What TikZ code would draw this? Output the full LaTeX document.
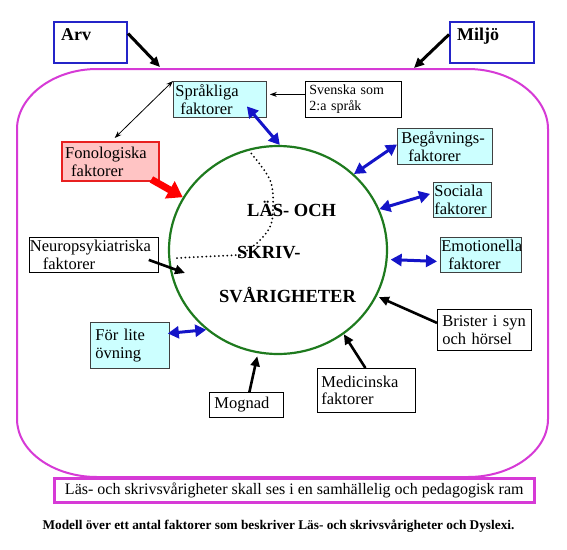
\documentclass[tikz,border=0pt]{standalone}
\usepackage{fontspec}
\setmainfont{Liberation Serif}
\usetikzlibrary{arrows.meta,shapes.geometric,calc}
\definecolor{cyanfill}{HTML}{CCFFFF}
\definecolor{magframe}{HTML}{D63AD6}
\definecolor{bluebd}{HTML}{2424C8}
\definecolor{arrblue}{HTML}{1414C8}
\definecolor{pinkfill}{HTML}{FFC4C4}
\definecolor{redbd}{HTML}{E82020}
\definecolor{greenc}{HTML}{1E7A1E}
\definecolor{graybd}{HTML}{404040}
\begin{document}
\begin{tikzpicture}[x=1pt,y=-1pt,
  basebox/.style={anchor=north west, inner xsep=4pt, inner ysep=0pt, align=left,
    font=\fontsize{16.5}{17.5}\selectfont, line width=0.8pt},
  cyanbox/.style={basebox, draw=graybd, fill=cyanfill},
  whitebox/.style={basebox, draw=black, fill=white},
  fonobox/.style={basebox, draw=redbd, fill=pinkfill, line width=2.4pt},
  topbox/.style={anchor=north west, draw=bluebd, line width=2pt, inner sep=0pt},
  toptext/.style={anchor=base west, inner sep=0pt, font=\bfseries\fontsize{18}{20}\selectfont},
  centertext/.style={anchor=base west, inner sep=0pt, font=\bfseries\fontsize{18.5}{20}\selectfont},
  bluearr/.style={draw=arrblue, line width=3pt,
    {Triangle[length=11pt,width=12pt]}-{Triangle[length=11pt,width=12pt]}},
  blackarr/.style={draw=black, line width=2.6pt, -{Triangle[length=10pt,width=9pt]}},
  redarr/.style={draw=red, line width=7pt, -{Triangle[length=15pt,width=19pt]}},
  thinarr/.style={draw=black, line width=0.8pt, -{Stealth[length=7pt,width=5pt]}},
  thindbl/.style={draw=black, line width=0.8pt, {Stealth[length=7pt,width=5pt]}-{Stealth[length=7pt,width=5pt]}},
  dotline/.style={draw=black, line width=2pt, line cap=round, dash pattern=on 0pt off 4.2pt}
]
\useasboundingbox (0,0) rectangle (567,549);
\fill[white] (0,0) rectangle (567,549);

% outer frame
\draw[magframe, line width=2pt]
  (97,69) -- (468,69) .. controls (512,69) and (548,97) .. (548,129)
  -- (548,419) .. controls (548,451) and (512,477) .. (468,477)
  -- (97,477) .. controls (53,477) and (17,451) .. (17,419)
  -- (17,129) .. controls (17,97) and (53,69) .. (97,69) -- cycle;
\coordinate (fa) at (160,67);
\coordinate (fm) at (414,68);

% Arv / Miljo
\node[topbox, minimum width=73pt, minimum height=41pt] (arv) at (53,21) {};
\node[toptext] (arvt) at (61,40) {Arv};
\node[topbox, minimum width=84pt, minimum height=41pt] (miljo) at (449,21) {};
\node[toptext] (miljot) at (457,40) {Miljö};
\draw[blackarr, line width=3pt] ($(arv.east)+(0,-9)$) -- (fa);
\draw[blackarr, line width=3pt] ($(miljo.west)+(0,-8)$) -- (fm);

% central circle
\node[draw=greenc, line width=2.2pt, ellipse, minimum width=218pt, minimum height=208pt, inner sep=0pt] (c) at (278,250) {};

% dotted line
\draw[dotline] (177,258) -- (240,255)
  plot[smooth, tension=0.6] coordinates {(240,255) (257,243) (270,227) (273,207) (270,180) (250,152)};

\node[centertext] (t1) at (247,216) {LÄS- OCH};
\node[centertext] (t2) at (237,258) {SKRIV-};
\node[centertext] (t3) at (219,302) {SVÅRIGHETER};

% boxes
\node[cyanbox, minimum width=93pt, minimum height=36pt, text width=89pt, inner xsep=2pt] (sprak) at (173,81) {Språkliga\\\hspace*{5pt}faktorer};
\node[whitebox, minimum width=96pt, minimum height=36pt, text width=88pt, font=\fontsize{14}{16}\selectfont] (svenska) at (305,81) {Svenska som\\2:a språk};
\node[fonobox, minimum width=97pt, minimum height=39pt, text width=91pt, inner xsep=3pt] (fono) at (61,141) {Fonologiska\\\hspace*{6pt}faktorer};
\node[cyanbox, minimum width=95pt, minimum height=36pt, text width=87pt, inner xsep=4pt] (begav) at (397,128) {Begåvnings-\\\hspace*{7pt}faktorer};
\node[cyanbox, minimum width=58pt, minimum height=35pt, text width=56pt, inner xsep=1pt] (sociala) at (433,182) {Sociala\\faktorer};
\node[cyanbox, minimum width=81pt, minimum height=35pt, text width=79pt, inner xsep=1pt] (emot) at (440,237) {Emotionella\\\hspace*{7pt}faktorer};
\node[whitebox, minimum width=92pt, minimum height=41pt, text width=84pt, inner xsep=5pt] (brister) at (437,309) {Brister i syn\\och hörsel};
\node[whitebox, minimum width=98pt, minimum height=44pt, text width=90pt] (medic) at (317,368) {Medicinska\\faktorer};
\node[whitebox, minimum width=72pt, minimum height=25pt, text width=64pt, inner xsep=5pt] (mognad) at (209,392) {Mognad};
\node[cyanbox, minimum width=77pt, minimum height=46pt, text width=69pt, inner xsep=5pt] (forlite) at (90,322) {För lite\\övning};
\node[whitebox, minimum width=129pt, minimum height=35pt, text width=128pt, inner xsep=0.5pt] (neuro) at (29,237) {Neuropsykiatriska\\\hspace*{13pt}faktorer};

% connectors
\draw[thinarr] ($(svenska.west)+(0,-5)$) -- ($(sprak.east)+(3,-5)$);
\draw[thindbl] (sprak.north west) -- ($(fono.north)+(4,-3)$);
\draw[redarr] ($(fono.south east)+(-9,-3)$) -- (c.151);
\draw[bluearr] ($(sprak.center)+(27,7)$) -- (c.89);
\draw[bluearr] (c.45) -- ($(begav.west)+(0,-2)$);
\draw[bluearr] (c.22) -- ($(sociala.west)+(-3,-6)$);
\draw[bluearr] ($(c.-5)+(3,0)$) -- ($(emot.west)+(-3,6.5)$);
\draw[bluearr] ($(forlite.east)+(-2,-12)$) -- (c.228);
\draw[blackarr] ($(brister.west)+(0,-7)$) -- ($(c.-25)+(2,1)$);
\draw[blackarr] ($(medic.north)+(-1,0)$) -- (c.-52);
\draw[blackarr, shorten >=3pt] ($(mognad.north)+(3,0)$) -- (c.-101);
\draw[blackarr] ($(neuro.east)+(-10,5)$) -- ($(c.center)+(-93,23)$);

% bottom box and caption
\node[draw=magframe, line width=2.5pt, fill=white, minimum width=480pt, minimum height=24pt, anchor=north west, inner sep=0pt, font=\fontsize{16}{18}\selectfont] (ram) at (53,477) {Läs- och skrivsvårigheter skall ses i en samhällelig och pedagogisk ram};
\node[anchor=base, inner sep=0pt, font=\bfseries\fontsize{13.3}{15}\selectfont] (cap) at (278.5,529) {Modell över ett antal faktorer som beskriver Läs- och skrivsvårigheter och Dyslexi.};
\end{tikzpicture}
\end{document}
